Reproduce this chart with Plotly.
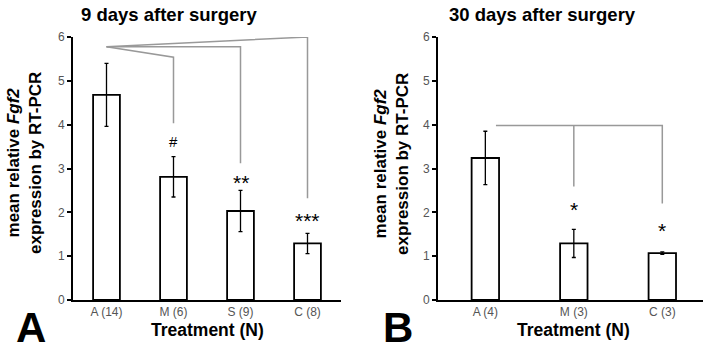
import plotly.graph_objects as go

# ---- data ----
cats_a = ["A (14)", "M (6)", "S (9)", "C (8)"]
means_a = [4.68, 2.81, 2.03, 1.29]
errs_a = [0.72, 0.46, 0.47, 0.23]
marks_a = ["", "#", "**", "***"]
mark_y_a = [None, 3.61, 2.78, 1.90]

cats_b = ["A (4)", "M (3)", "C (3)"]
means_b = [3.24, 1.29, 1.07]
errs_b = [0.61, 0.32, 0.03]
marks_b = ["", "*", "*"]
mark_y_b = [None, 2.15, 1.67]

# significance brackets (x in category index, y in data units)
brk_a = [
    ([0, 1, 1], [5.78, 5.54, 4.03]),
    ([0, 2, 2], [5.78, 5.78, 3.12]),
    ([0, 3, 3], [5.78, 6.00, 2.32]),
]
brk_b = [
    ([0.12, 2, 2], [3.98, 3.98, 2.20]),
    ([1, 1], [3.98, 2.59]),
]

yticks = [0, 1, 2, 3, 4, 5, 6]

FONT = "Arial, Liberation Sans, Helvetica, sans-serif"
GRAY = "#555555"
LINE = "#999999"

W, H = 711, 353


def px(x):
    return x / W


def py(y):
    return 1 - y / H


fig = go.Figure()


def add_panel(xa, ya, cats, means, errs, width, brks, marks, mark_y):
    xs = list(range(len(cats)))
    for bx, by in brks:
        fig.add_trace(go.Scatter(x=bx, y=by, mode="lines", xaxis=xa, yaxis=ya,
                                 line=dict(color=LINE, width=1.5),
                                 showlegend=False, hoverinfo="skip"))
    fig.add_trace(go.Bar(
        x=xs, y=means, width=width, xaxis=xa, yaxis=ya,
        marker=dict(color="white", line=dict(color="black", width=1.8)),
        error_y=dict(type="data", array=errs, visible=True, color="black",
                     thickness=1.3, width=2),
        showlegend=False, hoverinfo="skip"))
    for i, (m, my) in enumerate(zip(marks, mark_y)):
        if m:
            star = "*" in m
            fig.add_annotation(x=i, y=my, xref=xa, yref=ya, text=m,
                               showarrow=False,
                               font=dict(family=FONT, size=21 if star else 15,
                                         color="black"),
                               yshift=-4 if star else 0)


add_panel("x", "y", cats_a, means_a, errs_a, 0.4, brk_a, marks_a, mark_y_a)
add_panel("x2", "y2", cats_b, means_b, errs_b, 0.31, brk_b, marks_b, mark_y_b)

ydom = [py(300), py(37)]
common_y = dict(range=[0, 6], tickvals=yticks, showline=True, linecolor="black",
                linewidth=2, ticks="outside", ticklen=4, tickwidth=1.5,
                tickcolor="black", showgrid=False, zeroline=False,
                automargin=False,
                tickfont=dict(family=FONT, size=12, color=GRAY), domain=ydom)
common_x = dict(showline=True, linecolor="black", linewidth=2, ticks="",
                showgrid=False, zeroline=False, automargin=False,
                tickfont=dict(family=FONT, size=12, color=GRAY))

fig.update_layout(
    width=W, height=H,
    margin=dict(l=0, r=0, t=0, b=0, autoexpand=False),
    paper_bgcolor="white", plot_bgcolor="white",
    xaxis=dict(common_x, domain=[px(73), px(341)], range=[-0.5, 3.5],
               tickvals=list(range(len(cats_a))), ticktext=cats_a, anchor="y"),
    yaxis=dict(common_y, anchor="x"),
    xaxis2=dict(common_x, domain=[px(438), px(703)], range=[-0.535, 2.46],
                tickvals=list(range(len(cats_b))), ticktext=cats_b, anchor="y2"),
    yaxis2=dict(common_y, anchor="x2"),
)

ylab = "<b>mean relative <i>Fgf2</i><br>expression by RT-PCR</b>"
texts = [
    (169, 15, "<b>9 days after surgery</b>", 18.5, 0),
    (542, 15, "<b>30 days after surgery</b>", 18.5, 0),
    (207, 330, "<b>Treatment (N)</b>", 17.5, 0),
    (573, 330, "<b>Treatment (N)</b>", 17.5, 0),
    (24, 163, ylab, 17, -90),
    (391, 164, ylab, 17, -90),
    (31, 327, "<b>A</b>", 42, 0),
    (398, 327, "<b>B</b>", 42, 0),
]
for x, y, t, s, ang in texts:
    fig.add_annotation(x=px(x), y=py(y), xref="paper", yref="paper", text=t,
                       showarrow=False, textangle=ang, xanchor="center",
                       yanchor="middle",
                       font=dict(family=FONT, size=s, color="black"))

fig.write_html(
    "out.html",
    config={"displayModeBar": False},
    post_script="document.body.style.margin='0';document.body.style.padding='0';",
)
